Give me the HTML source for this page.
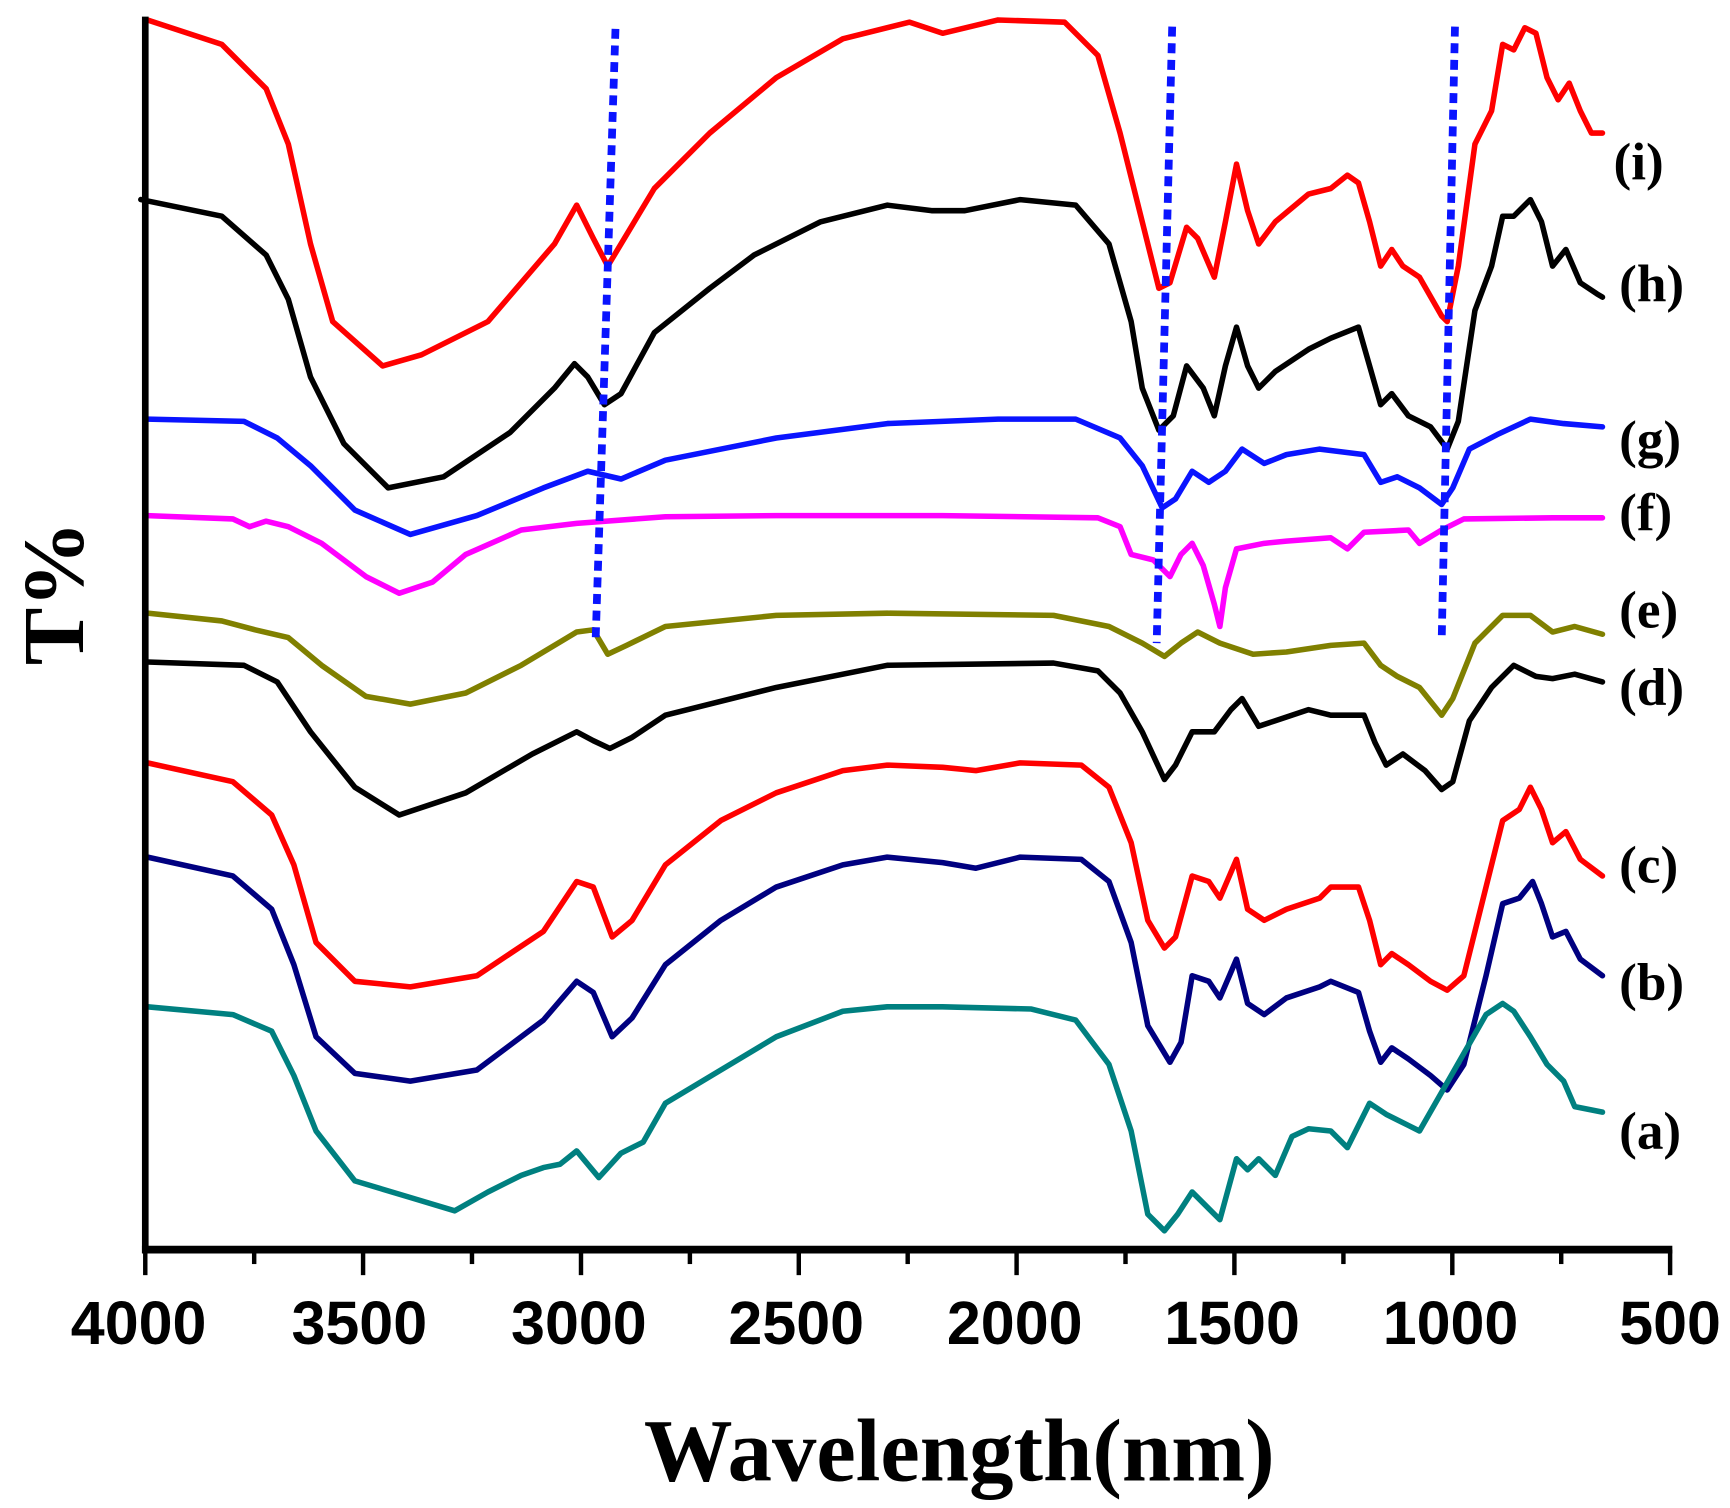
<!DOCTYPE html>
<html><head><style>html,body{margin:0;padding:0;background:#fff}svg{display:block}</style></head><body>
<svg width="1730" height="1508" viewBox="0 0 1560 1360" preserveAspectRatio="none" xmlns="http://www.w3.org/2000/svg">
<rect width="1560" height="1360" fill="#fff"/>
<g fill="none" stroke-width="5" stroke-linejoin="round" stroke-linecap="round">
<polyline stroke="#ff0000" points="133,18 200,40 240,80 260,130 280,220 300,290 345,330 380,320 440,290 500,220 520,185 535,215 548,240 560,220 590,170 640,120 700,70 760,35 820,20 850,30 900,18 960,20 990,50 1010,120 1030,200 1045,260 1055,255 1070,205 1080,215 1095,250 1105,200 1115,148 1125,190 1135,220 1150,200 1180,175 1200,170 1215,158 1225,165 1235,200 1245,240 1255,225 1265,240 1280,250 1300,285 1305,290 1315,240 1330,130 1345,100 1355,40 1365,45 1375,25 1385,30 1395,70 1405,90 1415,75 1425,100 1435,120 1445,120"/>
<polyline stroke="#000" points="127,180 200,195 240,230 260,270 280,340 310,400 350,440 400,430 460,390 500,350 518,328 530,340 545,365 560,355 590,300 640,260 680,230 740,200 800,185 840,190 870,190 920,180 970,185 1000,220 1020,290 1030,350 1045,388 1058,375 1070,330 1085,350 1095,375 1105,330 1115,295 1125,330 1135,350 1150,335 1180,315 1200,305 1225,295 1235,330 1245,365 1255,355 1270,375 1290,385 1305,405 1315,380 1330,280 1345,240 1355,195 1365,195 1380,180 1390,200 1400,240 1412,225 1425,255 1440,265 1445,268"/>
<polyline stroke="#0a14ff" points="133,378 220,380 250,395 280,420 320,460 370,482 430,465 490,440 530,425 560,432 600,415 700,395 800,382 900,378 970,378 1010,395 1030,420 1048,458 1060,450 1075,425 1090,435 1105,425 1120,405 1140,418 1160,410 1190,405 1230,410 1245,435 1260,430 1280,440 1300,455 1310,440 1325,405 1350,392 1380,378 1410,382 1445,385"/>
<polyline stroke="#ff00ff" points="133,465 210,468 225,475 240,470 260,475 290,490 330,520 360,535 390,525 420,500 470,478 520,472 600,466 700,465 850,465 990,467 1010,475 1020,500 1040,505 1055,520 1065,500 1075,490 1085,510 1095,545 1100,565 1105,530 1115,495 1140,490 1160,488 1200,485 1215,495 1230,480 1270,478 1280,490 1300,478 1320,468 1400,467 1445,467"/>
<polyline stroke="#808000" points="133,553 200,560 230,568 260,575 290,600 330,628 370,635 420,625 470,600 520,570 535,568 548,590 565,582 600,565 700,555 800,553 950,555 1000,565 1030,580 1050,592 1065,580 1080,570 1100,580 1130,590 1160,588 1200,582 1230,580 1245,600 1260,610 1280,620 1300,645 1310,630 1330,580 1355,555 1380,555 1400,570 1420,565 1445,572"/>
<polyline stroke="#000" points="133,597 220,600 250,615 280,660 320,710 360,735 420,715 480,680 520,660 535,668 550,675 570,665 600,645 700,620 800,600 950,598 990,605 1010,625 1030,660 1050,703 1060,690 1075,660 1095,660 1110,640 1120,630 1135,655 1150,650 1180,640 1200,645 1230,645 1240,670 1250,690 1265,680 1285,695 1300,712 1310,705 1325,650 1345,620 1365,600 1385,610 1400,612 1420,608 1445,615"/>
<polyline stroke="#ff0000" points="133,688 210,705 245,735 265,780 285,850 320,885 370,890 430,880 490,840 520,795 535,800 552,845 570,830 600,780 650,740 700,715 760,695 800,690 850,692 880,695 920,688 975,690 1000,710 1020,760 1035,830 1050,855 1060,845 1075,790 1090,795 1100,810 1115,775 1125,820 1140,830 1160,820 1190,810 1200,800 1225,800 1235,830 1245,870 1255,860 1270,870 1290,885 1305,893 1320,880 1340,800 1355,740 1370,730 1380,710 1390,730 1400,760 1412,750 1425,775 1445,790"/>
<polyline stroke="#000080" points="133,773 210,790 245,820 265,870 285,935 320,968 370,975 430,965 490,920 520,885 535,895 552,935 570,918 600,870 650,830 700,800 760,780 800,773 850,778 880,783 920,773 975,775 1000,795 1020,850 1035,925 1055,958 1065,940 1075,880 1090,885 1100,900 1115,865 1125,905 1140,915 1160,900 1190,890 1200,885 1225,895 1235,930 1245,958 1255,945 1270,955 1290,970 1305,983 1320,960 1340,880 1355,815 1370,810 1382,795 1390,815 1400,845 1412,840 1425,865 1445,880"/>
<polyline stroke="#008080" points="133,908 210,915 245,930 265,970 285,1020 320,1065 370,1080 410,1092 440,1075 470,1060 490,1053 505,1050 520,1038 540,1062 560,1040 580,1030 600,995 650,965 700,935 760,912 800,908 850,908 930,910 970,920 1000,960 1020,1020 1035,1095 1050,1110 1062,1095 1075,1075 1090,1090 1100,1100 1115,1045 1125,1055 1135,1045 1150,1060 1165,1025 1180,1018 1200,1020 1215,1035 1235,995 1250,1005 1270,1015 1280,1020 1300,985 1320,950 1340,915 1355,905 1365,912 1380,935 1395,960 1410,975 1420,998 1445,1003"/>
</g>
<g stroke="#0a14ff" stroke-width="7" stroke-dasharray="9,6" fill="none">
<line x1="555" y1="26" x2="537" y2="580"/>
<line x1="1057" y1="24" x2="1043" y2="580"/>
<line x1="1312" y1="24" x2="1300" y2="578"/>
</g>
<g stroke="#000">
<line x1="131" y1="15" x2="131" y2="1130" stroke-width="6"/>
<line x1="128" y1="1127" x2="1508" y2="1127" stroke-width="7"/>
<g stroke-width="4">
<line x1="131" y1="1127" x2="131" y2="1150"/><line x1="327.4" y1="1127" x2="327.4" y2="1150"/><line x1="523.9" y1="1127" x2="523.9" y2="1150"/><line x1="720.3" y1="1127" x2="720.3" y2="1150"/><line x1="916.7" y1="1127" x2="916.7" y2="1150"/><line x1="1113.1" y1="1127" x2="1113.1" y2="1150"/><line x1="1309.6" y1="1127" x2="1309.6" y2="1150"/><line x1="1506" y1="1127" x2="1506" y2="1150"/>
<line x1="229.2" y1="1127" x2="229.2" y2="1140"/><line x1="425.6" y1="1127" x2="425.6" y2="1140"/><line x1="622.1" y1="1127" x2="622.1" y2="1140"/><line x1="818.5" y1="1127" x2="818.5" y2="1140"/><line x1="1014.9" y1="1127" x2="1014.9" y2="1140"/><line x1="1211.4" y1="1127" x2="1211.4" y2="1140"/><line x1="1407.8" y1="1127" x2="1407.8" y2="1140"/>
</g></g>
<g font-family="Liberation Sans, sans-serif" font-weight="bold" font-size="55" text-anchor="middle" fill="#000">
<text x="125" y="1212">4000</text><text x="324" y="1212">3500</text><text x="522" y="1212">3000</text><text x="718" y="1212">2500</text><text x="915" y="1212">2000</text><text x="1111" y="1212">1500</text><text x="1308" y="1212">1000</text><text x="1506" y="1212">500</text>
</g>
<g font-family="Liberation Serif, serif" font-weight="bold" fill="#000">
<text x="865" y="1335" font-size="80" text-anchor="middle">Wavelength(nm)</text>
<text transform="translate(75,535) rotate(-90)" font-size="78" text-anchor="middle">T%</text>
<g font-size="48">
<text x="1455" y="162">(i)</text><text x="1460" y="272">(h)</text><text x="1460" y="412">(g)</text><text x="1460" y="478">(f)</text><text x="1460" y="566">(e)</text><text x="1460" y="636">(d)</text><text x="1460" y="796">(c)</text><text x="1460" y="902">(b)</text><text x="1460" y="1036">(a)</text>
</g></g>
</svg>
</body></html>
